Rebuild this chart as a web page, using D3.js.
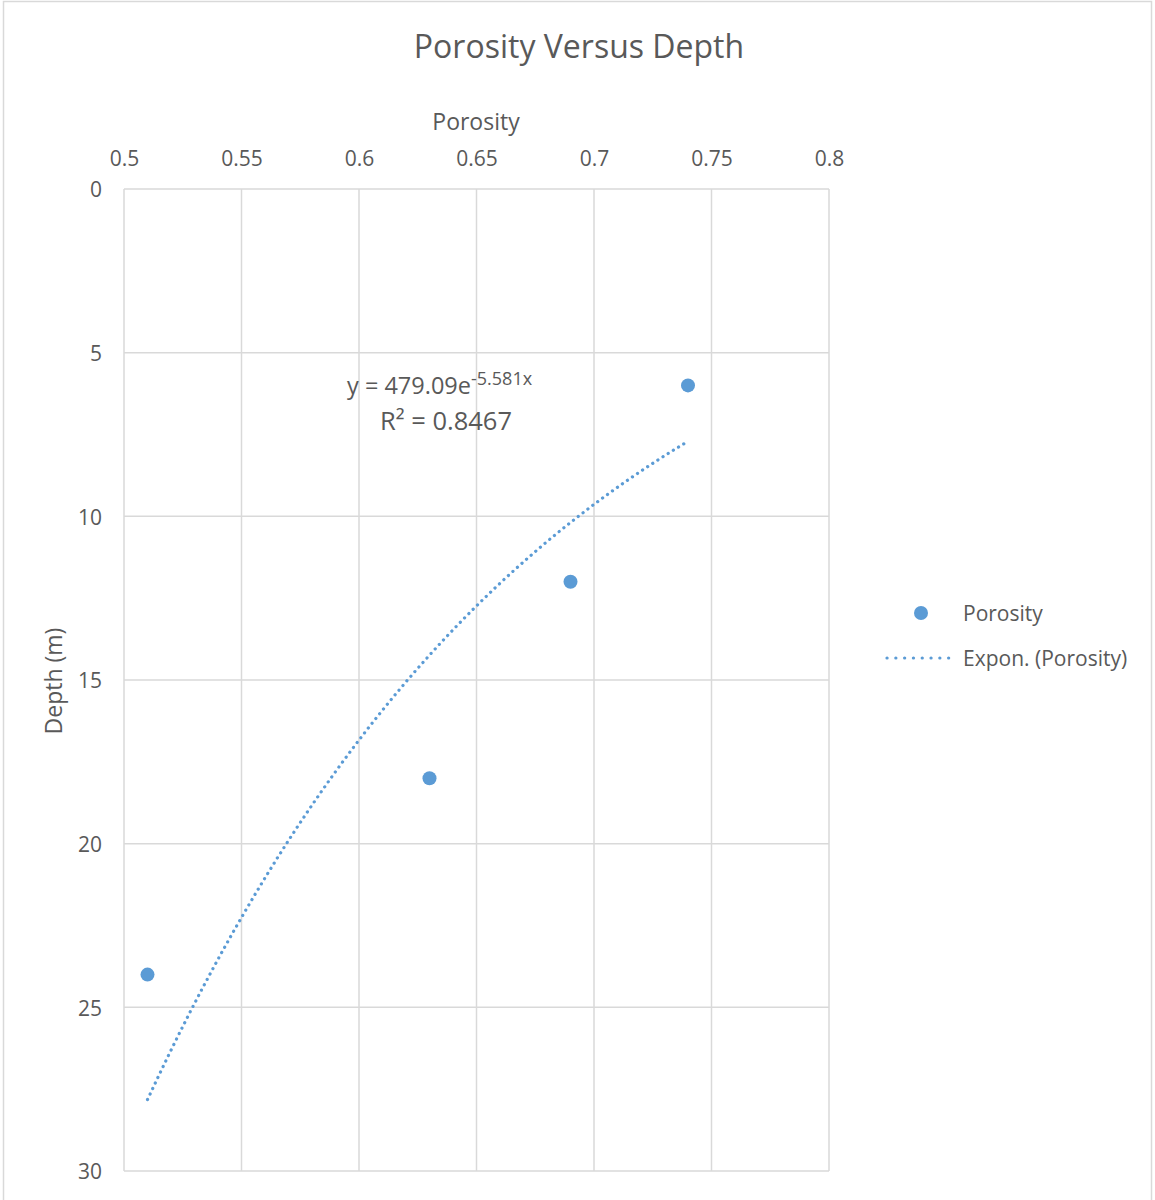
<!DOCTYPE html>
<html>
<head>
<meta charset="utf-8">
<script src="https://cdn.jsdelivr.net/npm/d3@7"></script>
<style>
  body { margin: 0; background: #fff; }
  text { font-family: "Open Sans", "Noto Sans", sans-serif; fill: #595959; }
</style>
</head>
<body>
<script>
const WIDTH = 1155;
const HEIGHT = 1200;

// data
const porosity = [0.51, 0.63, 0.69, 0.74];
const depth = [24, 18, 12, 6];
const xTicks = [0.5, 0.55, 0.6, 0.65, 0.7, 0.75, 0.8];
const yTicks = [0, 5, 10, 15, 20, 25, 30];

const BLUE = "#5b9bd5";
const GRID = "#d9d9d9";

const svg = d3.select("body")
              .append("svg")
              .attr("width", WIDTH)
              .attr("height", HEIGHT);

// outer chart border
svg.append("rect")
   .attr("x", 3.5).attr("y", 1.5)
   .attr("width", 1148).attr("height", 1210)
   .attr("fill", "none")
   .attr("stroke", GRID)
   .attr("stroke-width", 1.5);

const x = d3.scaleLinear().domain([0.5, 0.8]).range([124, 829]);
const y = d3.scaleLinear().domain([0, 30]).range([189, 1171]);

// gridlines
svg.append("g")
   .selectAll("line")
   .data(xTicks)
   .join("line")
   .attr("x1", d => x(d)).attr("x2", d => x(d))
   .attr("y1", y(0)).attr("y2", y(30))
   .attr("stroke", GRID).attr("stroke-width", 1.5);

svg.append("g")
   .selectAll("line")
   .data(yTicks)
   .join("line")
   .attr("x1", x(0.5)).attr("x2", x(0.8))
   .attr("y1", d => y(d)).attr("y2", d => y(d))
   .attr("stroke", GRID).attr("stroke-width", 1.5);

// top axis labels
const xAxis = d3.axisTop(x).tickValues(xTicks).tickSize(0).tickPadding(23)
                .tickFormat(d => String(d));
svg.append("g")
   .attr("transform", "translate(0," + y(0) + ")")
   .call(xAxis)
   .call(g => g.select(".domain").remove())
   .selectAll("text")
   .style("font-family", "'Open Sans', sans-serif")
   .style("font-size", "21px")
   .attr("fill", "#595959");

const yAxis = d3.axisLeft(y).tickValues(yTicks).tickSize(0).tickPadding(22);
svg.append("g")
   .attr("transform", "translate(" + x(0.5) + ",1)")
   .call(yAxis)
   .call(g => g.select(".domain").remove())
   .selectAll("text")
   .style("font-family", "'Open Sans', sans-serif")
   .style("font-size", "21px")
   .attr("fill", "#595959");

// titles
svg.append("text")
   .attr("x", 579).attr("y", 58)
   .attr("text-anchor", "middle")
   .style("font-size", "32px")
   .text("Porosity Versus Depth");

svg.append("text")
   .attr("x", 476).attr("y", 130)
   .attr("text-anchor", "middle")
   .style("font-size", "23px")
   .text("Porosity");

svg.append("text")
   .attr("transform", "translate(62,681) rotate(-90)")
   .attr("text-anchor", "middle")
   .style("font-size", "23px")
   .text("Depth (m)");

// exponential trendline fitted from the points: depth = a * e^(b * porosity)
const lx = porosity;
const ly = depth.map(Math.log);
const mx = d3.mean(lx), my = d3.mean(ly);
const b = d3.sum(lx, (v, i) => (v - mx) * (ly[i] - my)) / d3.sum(lx, v => (v - mx) ** 2);
const a = Math.exp(my - b * mx);
const fitX = d3.range(0, 51).map(i => d3.min(porosity) + i * (d3.max(porosity) - d3.min(porosity)) / 50);

svg.append("path")
   .datum(fitX)
   .attr("d", d3.line().x(d => x(d)).y(d => y(a * Math.exp(b * d))))
   .attr("fill", "none")
   .attr("stroke", BLUE)
   .attr("stroke-width", 3.2)
   .attr("stroke-linecap", "round")
   .attr("stroke-dasharray", "0.1,6");

// points
svg.append("g")
   .selectAll("circle")
   .data(porosity)
   .join("circle")
   .attr("cx", d => x(d))
   .attr("cy", (d, i) => y(depth[i]))
   .attr("r", 7)
   .attr("fill", BLUE);

// trendline label
const eq = svg.append("text")
   .attr("x", 347).attr("y", 394)
   .style("font-size", "23.5px");
eq.append("tspan").text("y = 479.09e");
eq.append("tspan").attr("dy", -9).style("font-size", "18px").text("-5.581x");

svg.append("text")
   .attr("x", 446).attr("y", 430)
   .attr("text-anchor", "middle")
   .style("font-size", "25.5px")
   .text("R² = 0.8467");

// legend
svg.append("circle")
   .attr("cx", 921).attr("cy", 613).attr("r", 7)
   .attr("fill", BLUE);
svg.append("text")
   .attr("x", 963).attr("y", 621)
   .style("font-size", "21px")
   .text("Porosity");

svg.append("line")
   .attr("x1", 887).attr("x2", 949)
   .attr("y1", 658).attr("y2", 658)
   .attr("stroke", BLUE)
   .attr("stroke-width", 3.2)
   .attr("stroke-linecap", "round")
   .attr("stroke-dasharray", "0.1,8.7");
svg.append("text")
   .attr("x", 963).attr("y", 666)
   .style("font-size", "21px")
   .text("Expon. (Porosity)");
</script>
</body>
</html>
